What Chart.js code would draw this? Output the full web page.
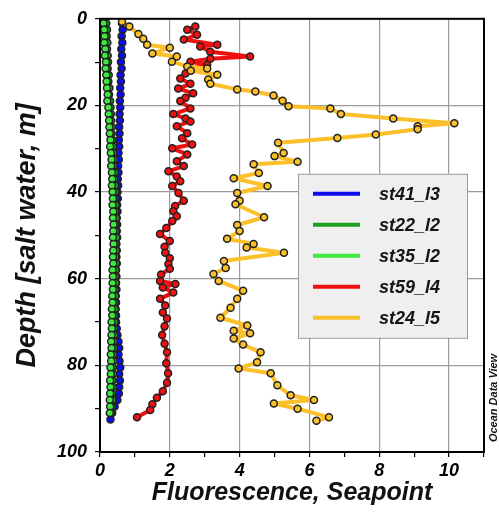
<!DOCTYPE html>
<html>
<head>
<meta charset="utf-8">
<script src="https://cdn.jsdelivr.net/npm/chart.js@4"></script>
<style>
  body { margin: 0; background: #fff; }
  #wrap { width: 499px; height: 512px; }
</style>
</head>
<body>
<div id="wrap"><canvas id="chart"></canvas></div>
<script>
// depth levels (m) shared by the dense profiles
var denseDepth = [1, 2.5, 4, 5.5, 7, 8.5, 10, 11.5, 13, 14.5, 16, 17.5, 19, 20.5, 22, 23.5, 25, 26.5, 28, 29.5,
    31, 32.5, 34, 35.5, 37, 38.5, 40, 41.5, 43, 44.5, 46, 47.5, 49, 50.5, 52, 53.5, 55, 56.5, 58, 59.5,
    61, 62.5, 64, 65.5, 67, 68.5, 70, 71.5, 73, 74.5, 76, 77.5, 79, 80.5, 82, 83.5, 85, 86.5, 88, 89.5,
    91, 92.5];

var st41Fluor = [0.63, 0.65, 0.62, 0.64, 0.61, 0.63, 0.6, 0.62, 0.59, 0.6,
    0.58, 0.59, 0.57, 0.58, 0.56, 0.57, 0.55, 0.56, 0.54, 0.55,
    0.53, 0.54, 0.52, 0.53, 0.51, 0.52, 0.5, 0.51, 0.49, 0.5,
    0.48, 0.49, 0.48, 0.49, 0.47, 0.48, 0.47, 0.48, 0.46, 0.47,
    0.46, 0.47, 0.45, 0.46, 0.45, 0.46, 0.46, 0.48, 0.5, 0.53,
    0.55, 0.53, 0.56, 0.58, 0.55, 0.57, 0.55, 0.54, 0.5, 0.42,
    0.35, 0.3];

var st22Fluor = [0.18, 0.2, 0.19, 0.21, 0.2, 0.22, 0.23, 0.22, 0.25, 0.24,
    0.27, 0.26, 0.29, 0.3, 0.31, 0.32, 0.34, 0.33, 0.36, 0.37,
    0.38, 0.4, 0.39, 0.42, 0.41, 0.43, 0.44, 0.42, 0.45, 0.44,
    0.46, 0.44, 0.45, 0.47, 0.45, 0.46, 0.44, 0.46, 0.45, 0.44,
    0.45, 0.43, 0.44, 0.42, 0.43, 0.41, 0.42, 0.4, 0.41, 0.39,
    0.4, 0.38, 0.39, 0.37, 0.38, 0.36, 0.37, 0.35, 0.36, 0.34,
    0.33];

var st35Fluor = [0.1, 0.12, 0.13, 0.12, 0.15, 0.14, 0.17, 0.16, 0.18, 0.19,
    0.2, 0.22, 0.21, 0.24, 0.25, 0.26, 0.27, 0.28, 0.3, 0.29,
    0.31, 0.33, 0.32, 0.34, 0.35, 0.34, 0.36, 0.37, 0.36, 0.38,
    0.37, 0.39, 0.38, 0.37, 0.39, 0.38, 0.37, 0.38, 0.36, 0.37,
    0.36, 0.37, 0.35, 0.36, 0.34, 0.35, 0.33, 0.34, 0.33, 0.32,
    0.33, 0.31, 0.32, 0.3, 0.31, 0.29, 0.3, 0.29, 0.28, 0.29,
    0.28];

var st59Depth = [1.8, 2.5, 3.7, 4.8, 6.0, 6.4, 7.6, 8.7, 9.2, 9.9, 10.6, 11.5, 12.6, 13.8, 15.0, 16.1, 17.2, 18.2,
    19.0, 20.7, 22.0, 23.0, 23.7, 24.8, 26.4, 27.6, 29.0, 29.9, 31.3, 32.9, 34.0, 35.2, 36.4, 37.5, 38.6,
    40.2, 42.0, 43.2, 44.4, 45.6, 46.7, 48.3, 49.7, 51.3, 52.6, 54.0, 55.3, 56.6, 57.7, 59.0, 60.5, 61.2,
    62.0, 63.2, 64.6, 66.2, 67.8, 69.2, 71.0, 73.0, 75.0, 77.0, 79.5, 81.8, 84.0, 86.0, 87.5, 89.0, 90.3, 92.0];
var st59Fluor = [2.73, 2.5, 2.78, 2.4, 3.36, 2.87, 3.16, 4.3, 3.16, 2.59, 3.07, 2.59, 2.45, 2.3, 2.59, 2.24, 2.67, 2.45,
    2.3, 2.59, 2.1, 2.45, 2.59, 2.2, 2.5, 2.35, 2.64, 2.07, 2.5, 2.2, 2.4, 1.96, 2.2, 2.3, 2.07,
    2.25, 2.4, 2.15, 2.1, 2.2, 2.07, 1.9, 1.72, 2.0, 1.85, 1.87, 2.0, 1.96, 2.0, 1.75, 1.72, 2.16,
    1.8, 2.1, 1.72, 1.87, 1.8, 1.92, 1.85, 1.78, 1.85, 1.92, 1.9, 1.95, 1.92, 1.8, 1.63, 1.5, 1.44, 1.06];

var st24Depth = [0.7, 1.8, 3.5, 4.6, 6.0, 6.7, 8.0, 8.7, 9.9, 11.0, 11.5, 12.0, 12.9, 14.0, 15.0, 16.3, 16.8, 17.7,
    18.9, 20.2, 20.7, 22.0, 23.0, 24.1, 24.8, 25.5, 26.7, 27.5, 28.6, 31.0, 31.7, 33.0, 33.6, 35.6, 36.8,
    38.6, 40.2, 42.0, 42.8, 45.8, 47.6, 49.0, 50.8, 52.0, 52.8, 54.0, 55.9, 57.5, 58.9, 60.5, 62.8, 64.6,
    66.7, 69.0, 70.8, 72.0, 72.6, 73.8, 75.2, 77.0, 79.3, 80.7, 81.8, 84.6, 86.9, 88.0, 88.8, 90.0, 92.0, 92.8];
var st24Fluor = [0.63, 0.84, 1.1, 1.24, 1.35, 2.0, 1.5, 2.2, 2.06, 2.5, 3.07, 2.6, 3.36, 3.1, 3.16, 3.93, 4.45, 4.97,
    5.23, 5.4, 6.6, 6.9, 8.4, 10.15, 9.1, 9.1, 7.9, 6.8, 5.1, 5.26, 5.0, 5.66, 4.4, 4.55, 3.83,
    4.8, 3.93, 4.0, 3.88, 4.7, 3.93, 4.0, 3.64, 4.4, 4.2, 5.27, 3.55, 3.6, 3.25, 3.4, 4.1, 3.93,
    3.74, 3.45, 4.22, 3.83, 4.3, 3.83, 4.1, 4.6, 4.5, 3.97, 4.89, 5.08, 5.46, 6.13, 4.98, 5.66, 6.56, 6.2];

var stationNames = ["st41_l3", "st22_l2", "st35_l2", "st59_l4", "st24_l5"];
var stationColors = ["#0c0cf0", "#1f9f1f", "#3ee83e", "#f01010", "#fcc02a"];

var fontFamily = "'Liberation Sans', Arial, sans-serif";

function toPoints(values, depths) {
    var pts = [];
    for (var i = 0; i < values.length; i++) {
        pts.push({ x: values[i], y: depths[i] });
    }
    return pts;
}

var profiles = [
    toPoints(st41Fluor, denseDepth),
    toPoints(st22Fluor, denseDepth),
    toPoints(st35Fluor, denseDepth),
    toPoints(st59Fluor, st59Depth),
    toPoints(st24Fluor, st24Depth)
];

var datasets = profiles.map(function (pts, i) {
    return {
        label: stationNames[i],
        data: pts,
        showLine: true,
        borderColor: stationColors[i],
        borderWidth: 4,
        borderJoinStyle: "round",
        borderCapStyle: "round",
        pointRadius: 3.5,
        pointBorderWidth: 1.5,
        pointBorderColor: "#222",
        pointBackgroundColor: stationColors[i],
        order: stationNames.length - i // later stations drawn on top
    };
});

// frame, legend box and watermark
var framePlugin = {
    id: "frame",
    afterDraw: function (chart) {
        var ctx = chart.ctx;
        var a = chart.chartArea;
        ctx.save();
        ctx.strokeStyle = "#000";
        ctx.lineWidth = 2;
        ctx.strokeRect(a.left, a.top, a.right - a.left, a.bottom - a.top);

        var lx = a.right - 186, ly = a.top + 155, lw = 169, lh = 164;
        ctx.fillStyle = "#efefef";
        ctx.fillRect(lx, ly, lw, lh);
        ctx.strokeStyle = "#9a9a9a";
        ctx.lineWidth = 1;
        ctx.strokeRect(lx + 0.5, ly + 0.5, lw, lh);

        ctx.font = "italic bold 18px " + fontFamily;
        ctx.textBaseline = "middle";
        ctx.textAlign = "left";
        chart.data.datasets.forEach(function (ds, i) {
            var y = ly + 20 + i * 31;
            ctx.strokeStyle = ds.borderColor;
            ctx.lineWidth = 4;
            ctx.beginPath();
            ctx.moveTo(lx + 15, y);
            ctx.lineTo(lx + 62, y);
            ctx.stroke();
            ctx.fillStyle = "#151515";
            ctx.fillText(ds.label, lx + 81, y + 1);
        });

        ctx.translate(chart.width - 5, a.bottom - 54);
        ctx.rotate(-Math.PI / 2);
        ctx.textAlign = "center";
        ctx.font = "italic bold 11px " + fontFamily;
        ctx.fillStyle = "#111";
        ctx.fillText("Ocean Data View", 0, 0);
        ctx.restore();
    }
};

document.addEventListener("DOMContentLoaded", function () {
    var ctx = document.getElementById("chart").getContext("2d");
    new Chart(ctx, {
        type: "scatter",
        data: { datasets: datasets },
        options: {
            responsive: true,
            maintainAspectRatio: false,
            animation: false,
            layout: { padding: { top: 17, right: 15, left: 0, bottom: 0 } },
            plugins: {
                legend: { display: false },
                tooltip: { enabled: false }
            },
            scales: {
                x: {
                    type: "linear",
                    position: "bottom",
                    min: 0,
                    max: 11,
                    afterFit: function (s) { s.height = 60; },
                    border: { color: "#000", width: 2 },
                    grid: {
                        color: function (c) { return c.tick && c.tick.value % 2 === 0 ? "#9c9c9c" : "rgba(0,0,0,0)"; },
                        tickColor: "#000",
                        tickLength: 5,
                        lineWidth: 1.2
                    },
                    ticks: {
                        stepSize: 1,
                        autoSkip: false,
                        maxRotation: 0,
                        padding: 3,
                        color: "#000",
                        font: { family: fontFamily, size: 18, style: "italic", weight: "bold" },
                        callback: function (v) { return v % 2 === 0 && v <= 10 ? String(v) : ""; }
                    },
                    title: {
                        display: true,
                        text: "Fluorescence, Seapoint",
                        color: "#111",
                        padding: { top: 0, bottom: 4 },
                        font: { family: fontFamily, size: 25, style: "italic", weight: "bold" }
                    }
                },
                y: {
                    type: "linear",
                    reverse: true,
                    min: 0,
                    max: 100,
                    afterFit: function (s) { s.width = 100; },
                    border: { color: "#000", width: 2 },
                    grid: {
                        color: function (c) { return c.tick && c.tick.value % 20 === 0 ? "#9c9c9c" : "rgba(0,0,0,0)"; },
                        tickColor: "#000",
                        tickLength: 5,
                        lineWidth: 1.2
                    },
                    ticks: {
                        stepSize: 10,
                        autoSkip: false,
                        padding: 8,
                        color: "#000",
                        font: { family: fontFamily, size: 18, style: "italic", weight: "bold" },
                        callback: function (v) { return v % 20 === 0 ? String(v) : ""; }
                    },
                    title: {
                        display: true,
                        text: "Depth [salt water, m]",
                        color: "#111",
                        padding: { top: 11, bottom: 0 },
                        font: { family: fontFamily, size: 27, style: "italic", weight: "bold" }
                    }
                }
            }
        },
        plugins: [framePlugin]
    });
});
</script>
</body>
</html>
